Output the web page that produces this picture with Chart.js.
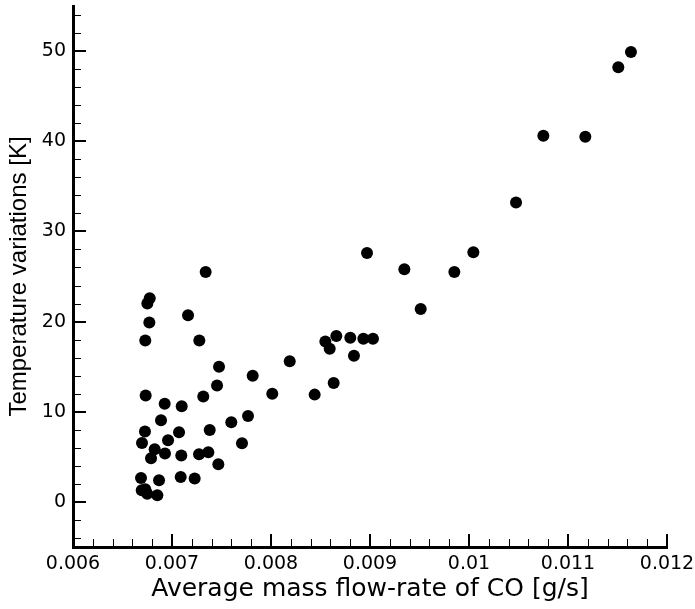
<!DOCTYPE html>
<html>
<head>
<meta charset="utf-8">
<title>CO flow-rate vs temperature variations</title>
<script src="https://cdn.jsdelivr.net/npm/chart.js@4.4.1/dist/chart.umd.min.js"></script>
<style>
  html, body { margin: 0; padding: 0; background: #fff; }
  #wrap { width: 695px; height: 609px; position: relative; }
</style>
</head>
<body>
<div id="wrap"><canvas id="scatter"></canvas></div>
<script>
// Average mass flow-rate of CO [g/s]
const flowRate = [
  0.011636, 0.011508, 0.010751, 0.011175, 0.010475, 0.010044, 0.009852, 0.009347,
  0.009512, 0.008970, 0.008549, 0.008660, 0.008593, 0.008801, 0.008933, 0.009030,
  0.008838, 0.008189, 0.008633, 0.007815, 0.008013, 0.008441, 0.006775, 0.006751,
  0.006771, 0.006730, 0.007162, 0.007276, 0.007475, 0.007455, 0.007340, 0.006734,
  0.007316, 0.006926, 0.007098, 0.006889, 0.007768, 0.007599, 0.006727, 0.007071,
  0.007381, 0.006697, 0.006960, 0.007707, 0.006825, 0.006788, 0.006929, 0.007094,
  0.007273, 0.007367, 0.007468, 0.006687, 0.006869, 0.007088, 0.007229, 0.006694,
  0.006730, 0.006750, 0.006852
];

// Temperature variations [K]
const tempVariation = [
  49.9, 48.2, 40.6, 40.5, 33.2, 27.7, 25.5, 25.8,
  21.4, 27.6, 17.8, 18.4, 17.0, 18.2, 18.1, 18.1,
  16.2, 15.6, 13.2, 14.0, 12.0, 11.9, 22.6, 22.0,
  19.9, 17.9, 20.7, 17.9, 15.0, 12.9, 25.5, 11.8,
  11.7, 10.9, 10.6, 9.06, 9.53, 8.84, 7.80, 7.73,
  7.98, 6.54, 6.84, 6.51, 5.84, 4.84, 5.37, 5.14,
  5.29, 5.51, 4.18, 2.66, 2.41, 2.77, 2.59, 1.3,
  1.4, 0.9, 0.74
];

const xMajor = [0.006, 0.007, 0.008, 0.009, 0.010, 0.011, 0.012];
const xMinor = [
  0.0062, 0.0064, 0.0066, 0.0068, 0.0072, 0.0074, 0.0076, 0.0078,
  0.0082, 0.0084, 0.0086, 0.0088, 0.0092, 0.0094, 0.0096, 0.0098,
  0.0102, 0.0104, 0.0106, 0.0108, 0.0112, 0.0114, 0.0116, 0.0118
];
const xLabels = ["0.006", "0.007", "0.008", "0.009", "0.01", "0.011", "0.012"];

const yMajor = [0, 10, 20, 30, 40, 50];
const yMinor = [
  -4, -2, 2, 4, 6, 8, 12, 14, 16, 18, 22, 24, 26, 28,
  32, 34, 36, 38, 42, 44, 46, 48, 52, 54
];
const yLabels = ["0", "10", "20", "30", "40", "50"];

const points = flowRate.map((x, i) => ({ x: x, y: tempVariation[i] }));

// tick marks point into the plot area, major ones longer and heavier
const inwardTicks = {
  id: "inwardTicks",
  afterDatasetsDraw(chart) {
    const { ctx, chartArea, scales } = chart;
    const xs = scales.x;
    const ys = scales.y;
    ctx.save();
    ctx.strokeStyle = "#000";

    ctx.lineWidth = 1;
    ctx.beginPath();
    xMinor.forEach(v => {
      const px = Math.round(xs.getPixelForValue(v)) + 0.5;
      ctx.moveTo(px, chartArea.bottom);
      ctx.lineTo(px, chartArea.bottom - 8);
    });
    yMinor.forEach(v => {
      const py = Math.round(ys.getPixelForValue(v)) + 0.5;
      ctx.moveTo(chartArea.left, py);
      ctx.lineTo(chartArea.left + 8, py);
    });
    ctx.stroke();

    ctx.lineWidth = 2;
    ctx.beginPath();
    xMajor.forEach(v => {
      const px = Math.round(xs.getPixelForValue(v));
      ctx.moveTo(px, chartArea.bottom);
      ctx.lineTo(px, chartArea.bottom - 13);
    });
    yMajor.forEach(v => {
      const py = Math.round(ys.getPixelForValue(v));
      ctx.moveTo(chartArea.left, py);
      ctx.lineTo(chartArea.left + 13, py);
    });
    ctx.stroke();
    ctx.restore();
  }
};

new Chart(document.getElementById("scatter"), {
  type: "scatter",
  data: {
    datasets: [{
      data: points,
      backgroundColor: "#000",
      borderWidth: 0,
      pointRadius: 6,
      pointHoverRadius: 6
    }]
  },
  options: {
    responsive: true,
    maintainAspectRatio: false,
    animation: false,
    layout: { padding: { top: 4, right: 28, bottom: 0, left: 0 } },
    plugins: {
      legend: { display: false },
      tooltip: { enabled: false }
    },
    scales: {
      x: {
        type: "linear",
        min: 0.006,
        max: 0.012,
        afterBuildTicks: (scale) => { scale.ticks = xMajor.map(v => ({ value: v })); },
        afterFit: (scale) => {
          scale.height = 62;
          scale.paddingLeft = 0;
          scale.paddingRight = 0;
        },
        ticks: {
          color: "#000",
          padding: 6,
          maxRotation: 0,
          font: { family: "'DejaVu Sans'", size: 19 },
          callback: (value) => xLabels[xMajor.findIndex(v => Math.abs(v - value) < 1e-9)]
        },
        grid: { drawOnChartArea: false, drawTicks: false },
        border: { display: true, color: "#000", width: 3 },
        title: {
          display: true,
          text: "Average mass flow-rate of CO [g/s]",
          color: "#000",
          font: { family: "'DejaVu Sans'", size: 25 },
          padding: { top: 0, bottom: 5 }
        }
      },
      y: {
        type: "linear",
        min: -5,
        max: 55,
        afterBuildTicks: (scale) => { scale.ticks = yMajor.map(v => ({ value: v })); },
        afterFit: (scale) => {
          scale.width = 73;
          scale.paddingTop = 0;
          scale.paddingBottom = 0;
        },
        ticks: {
          color: "#000",
          padding: 7,
          font: { family: "'DejaVu Sans'", size: 19 },
          callback: (value) => yLabels[yMajor.indexOf(value)]
        },
        grid: { drawOnChartArea: false, drawTicks: false },
        border: { display: true, color: "#000", width: 3 },
        title: {
          display: true,
          text: "Temperature variations [K]",
          color: "#000",
          font: { family: "'Liberation Sans'", size: 24 },
          padding: { top: 5, bottom: 0 }
        }
      }
    }
  },
  plugins: [inwardTicks]
});
</script>
</body>
</html>
